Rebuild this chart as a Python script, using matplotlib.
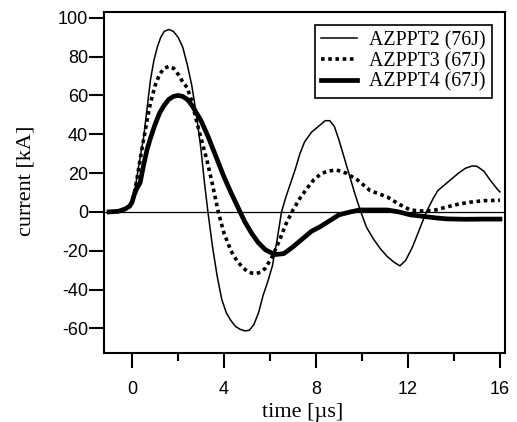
import matplotlib
matplotlib.use("Agg")
import matplotlib.pyplot as plt
from matplotlib.ticker import MultipleLocator

plt.rcParams["axes.unicode_minus"] = False

# 数据：电流波形 (time [us], current [kA])
t2 = [-1.0, -0.6, -0.3, -0.1, 0.0, 0.1, 0.2, 0.35, 0.5, 0.65, 0.8, 0.95, 1.1, 1.25,
      1.4, 1.6, 1.8, 2.0, 2.2, 2.4, 2.6, 2.8, 3.0, 3.15, 3.3, 3.5, 3.7, 3.9, 4.1, 4.3,
      4.5, 4.7, 4.9, 5.1, 5.3, 5.5, 5.7, 5.9, 6.1, 6.3, 6.5, 6.7, 6.9, 7.1, 7.3, 7.5,
      7.8, 8.1, 8.4, 8.6, 8.8, 9.0, 9.2, 9.4, 9.7, 9.95, 10.2, 10.5, 10.8, 11.1, 11.4,
      11.65, 11.9, 12.2, 12.5, 12.8, 13.1, 13.3, 13.6, 13.9, 14.2, 14.5, 14.8, 15.0,
      15.3, 15.6, 15.9, 16.0]
i2 = [0, 0.3, 1.5, 3, 5, 10, 17, 28, 38, 53, 68, 78, 85, 90,
      93, 94, 93, 90, 85, 76, 65, 50, 32, 15, 0, -18, -33, -45, -52, -56,
      -59, -60.5, -61.3, -61, -58, -52, -43, -36, -28, -15, 0, 8, 15, 22, 30, 36,
      41, 44, 47, 47, 44, 37, 29, 21, 9, 0, -8, -14, -19, -23, -26,
      -27.8, -25, -18, -9, 0, 7, 11, 14, 17, 20, 22.5, 23.7, 23.5,
      21, 16, 11.5, 10.3]

t3 = [-1.0, -0.6, -0.3, -0.1, 0.0, 0.1, 0.2, 0.35, 0.5, 0.65, 0.8, 1.0, 1.2, 1.4,
      1.6, 1.8, 2.0, 2.2, 2.4, 2.6, 2.8, 3.0, 3.25, 3.5, 3.75, 4.0, 4.3, 4.55, 4.8,
      5.0, 5.2, 5.4, 5.6, 5.8, 6.1, 6.4, 6.7, 7.0, 7.3, 7.6, 7.9, 8.2, 8.5, 8.9, 9.3,
      9.8, 10.35, 10.8, 11.1, 11.6, 12.1, 12.5, 12.8, 13.2, 13.7, 14.2, 14.7, 15.3, 16.0]
i3 = [0, 0.3, 1.5, 3, 5, 10, 16, 27, 37, 47, 56, 65, 71, 74,
      75, 74, 71, 67, 64, 57, 47, 38, 27, 14, 0, -11, -20, -25, -28.5,
      -30.5, -31.5, -31.8, -31, -29, -23, -15, -6, 1, 7, 12, 16.5, 19.5, 21, 21.6, 20,
      16.5, 11, 9, 7.7, 4, 1, 0.5, 0.5, 1, 2.6, 4, 5, 5.8, 6]

t4 = [-1.0, -0.6, -0.3, -0.1, 0.0, 0.1, 0.2, 0.35, 0.5, 0.65, 0.8, 1.0, 1.2, 1.4,
      1.6, 1.8, 2.0, 2.2, 2.4, 2.6, 2.8, 3.0, 3.3, 3.7, 4.0, 4.3, 4.7, 4.9, 5.2, 5.5,
      5.8, 6.2, 6.6, 7.0, 7.4, 7.8, 8.2, 8.6, 9.0, 9.5, 9.9, 10.4, 11.1, 11.6, 12.1,
      12.8, 13.3, 13.7, 14.5, 15.3, 16.0]
i4 = [0, 0.3, 1.5, 3, 5, 9, 12, 15, 24, 32, 38, 45, 51, 55,
      58, 59.5, 60, 59.5, 58, 55, 51, 47, 39, 27, 18, 10, 0, -5, -11, -16,
      -19.5, -22, -21.5, -18, -14, -10, -7.5, -4.5, -1.5, 0, 1, 1, 1, 0, -1.5,
      -2.5, -3.2, -3.6, -3.8, -3.7, -3.7]

labels = ["AZPPT2 (76J)", "AZPPT3 (67J)", "AZPPT4 (67J)"]

serif = ["Liberation Serif", "DejaVu Serif"]
sans = ["Liberation Sans", "DejaVu Sans"]

fig = plt.figure(figsize=(5.17, 4.22), dpi=100)
ax = fig.add_axes([104 / 517, 1 - 353 / 422, 401 / 517, 341 / 422])

ax.axhline(0, color="black", lw=0.9, zorder=1)
ax.plot(t2, i2, color="black", lw=1.1, label=labels[0])
ax.plot(t3, i3, color="black", lw=2.6, linestyle=(0, (1.0, 1.0)), label=labels[1])
ax.plot(t4, i4, color="black", lw=3.4, label=labels[2])

ax.set_xlim(-1.22, 16.22)
ax.set_ylim(-72.7, 103)
ax.xaxis.set_major_locator(MultipleLocator(4))
ax.xaxis.set_minor_locator(MultipleLocator(2))
ax.yaxis.set_major_locator(MultipleLocator(20))

for s in ax.spines.values():
    s.set_linewidth(1.5)
ax.tick_params(axis="both", which="major", direction="out", length=10.5, width=1.5)
ax.tick_params(axis="x", which="minor", direction="out", length=5.5, width=1.5)
ax.tick_params(axis="y", which="major", pad=1)
ax.tick_params(axis="x", which="major", pad=10)
for lab in ax.get_xticklabels() + ax.get_yticklabels():
    lab.set_family(sans)
    lab.set_fontsize(13)

ax.set_xlabel("time [\u00b5s]", family=serif, fontsize=16)
ax.set_ylabel("current [kA]", family=serif, fontsize=16)
ax.xaxis.set_label_coords(0.495, -0.146)
ax.yaxis.set_label_coords(-0.17, 0.505)

leg = ax.legend(loc="upper right", bbox_to_anchor=(0.9676, 0.962), borderaxespad=0,
                prop={"family": serif, "size": 14.3}, fancybox=False,
                handlelength=1.8, handletextpad=0.65, labelspacing=0.08,
                borderpad=0.3)
leg.get_frame().set_edgecolor("black")
leg.get_frame().set_linewidth(1.2)
leg.get_frame().set_alpha(1)

plt.savefig("out.png", dpi=100)
plt.close()
